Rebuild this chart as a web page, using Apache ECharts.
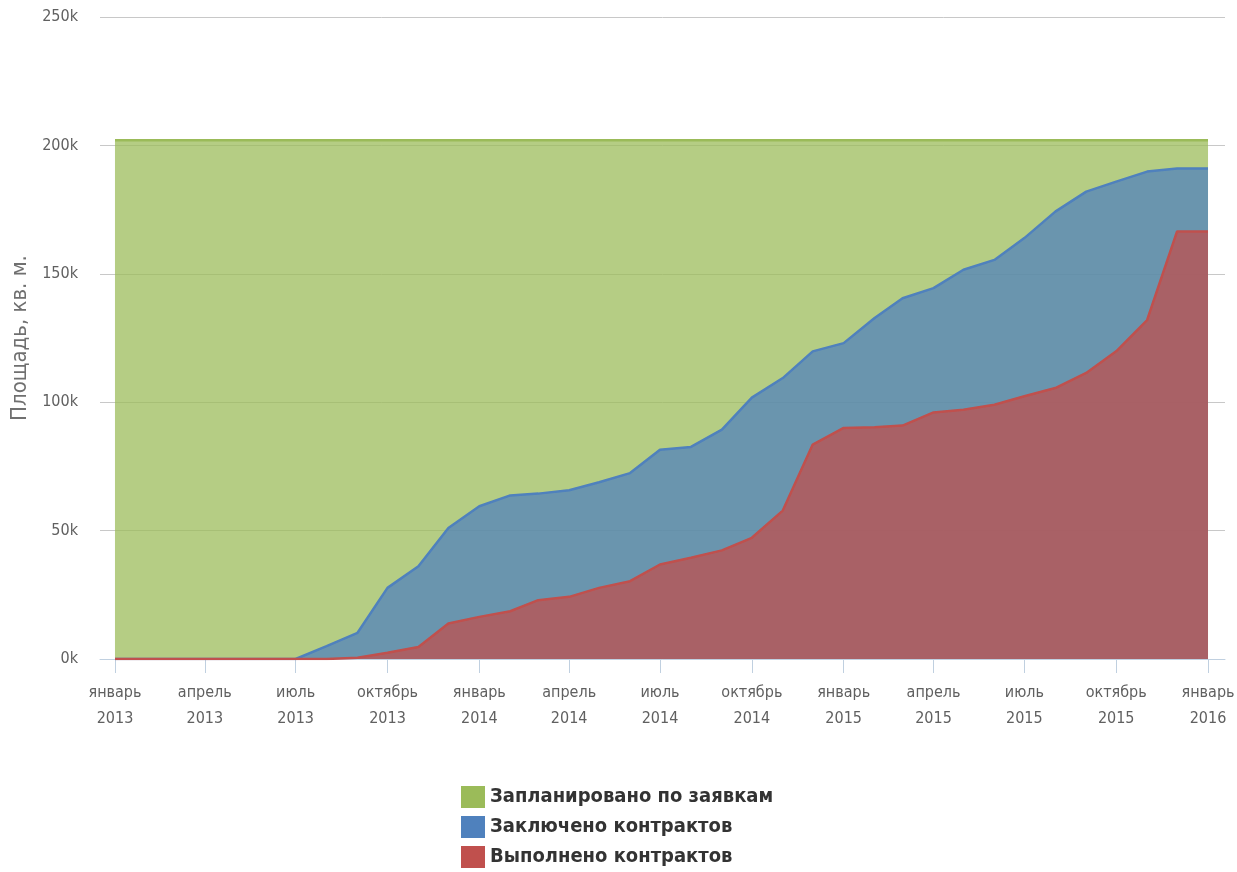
<!DOCTYPE html>
<html>
<head>
<meta charset="utf-8">
<script src="https://cdn.jsdelivr.net/npm/echarts@6/dist/echarts.min.js"></script>
<style>
  html, body { margin: 0; padding: 0; background: #fff; }
  #main { width: 1237px; height: 872px; }
</style>
</head>
<body>
<div id="main"></div>
<script>
// месяцы (первое число)
var months = [
  '2013-01-01', '2013-02-01', '2013-03-01', '2013-04-01', '2013-05-01', '2013-06-01',
  '2013-07-01', '2013-08-01', '2013-09-01', '2013-10-01', '2013-11-01', '2013-12-01',
  '2014-01-01', '2014-02-01', '2014-03-01', '2014-04-01', '2014-05-01', '2014-06-01',
  '2014-07-01', '2014-08-01', '2014-09-01', '2014-10-01', '2014-11-01', '2014-12-01',
  '2015-01-01', '2015-02-01', '2015-03-01', '2015-04-01', '2015-05-01', '2015-06-01',
  '2015-07-01', '2015-08-01', '2015-09-01', '2015-10-01', '2015-11-01', '2015-12-01',
  '2016-01-01'
];

// площадь, тыс. кв. м.
var planned = [
  202, 202, 202, 202, 202, 202, 202, 202, 202, 202, 202, 202,
  202, 202, 202, 202, 202, 202, 202, 202, 202, 202, 202, 202,
  202, 202, 202, 202, 202, 202, 202, 202, 202, 202, 202, 202,
  202
];
var contracted = [
  0, 0, 0, 0, 0, 0, 0, 5, 10.2, 27.7, 36.1, 51,
  59.5, 63.7, 64.4, 65.7, 68.8, 72.4, 81.5, 82.6, 89.3, 101.8, 109.4, 119.8,
  123, 132.8, 140.5, 144.4, 151.6, 155.4, 163.9, 174.2, 182, 185.9, 189.8, 191,
  191
];
var done = [
  0, 0, 0, 0, 0, 0, 0, 0, 0.5, 2.4, 4.7, 13.8,
  16.4, 18.6, 22.9, 24.2, 27.7, 30.3, 36.8, 39.4, 42.3, 47.2, 57.8, 83.5,
  90, 90.2, 90.9, 96, 97.1, 99, 102.3, 105.5, 111.4, 119.8, 132, 166.5,
  166.5
];

// подписи оси X
var tickDates = [
  '2013-01-01', '2013-04-01', '2013-07-01', '2013-10-01',
  '2014-01-01', '2014-04-01', '2014-07-01', '2014-10-01',
  '2015-01-01', '2015-04-01', '2015-07-01', '2015-10-01',
  '2016-01-01'
];
var monthNames = ['январь', 'февраль', 'март', 'апрель', 'май', 'июнь',
  'июль', 'август', 'сентябрь', 'октябрь', 'ноябрь', 'декабрь'];

var seriesNames = ['Запланировано по заявкам', 'Заключено контрактов', 'Выполнено контрактов'];
var seriesColors = ['#9bbb59', '#4f81bd', '#c0504d'];
var seriesData = [planned, contracted, done];

function toTime(s) {
  var p = s.split('-');
  return new Date(+p[0], +p[1] - 1, +p[2]).getTime();
}

var narrow = "'Liberation Sans Narrow', 'Arial Narrow', 'DejaVu Sans Condensed', sans-serif";
var tickValues = tickDates.map(toTime);

var chart = echarts.init(document.getElementById('main'));

var option = {
  animation: false,
  grid: { left: 100, right: 12, top: 17, bottom: 213, containLabel: false, outerBoundsMode: 'none' },
  legend: {
    orient: 'vertical',
    left: 456,
    top: 781,
    height: 120,
    icon: 'rect',
    itemWidth: 24,
    itemHeight: 22,
    itemGap: 8,
    textStyle: { fontFamily: narrow, fontSize: 20, fontWeight: 'bold', color: '#333' },
    data: seriesNames
  },
  xAxis: {
    type: 'value',
    min: toTime('2012-12-17'),
    max: toTime('2016-01-18'),
    axisLine: { show: true, onZero: false, lineStyle: { color: '#c0d0e0', width: 1 } },
    axisTick: { show: true, length: 14, lineStyle: { color: '#c0d0e0' }, customValues: tickValues },
    splitLine: { show: false },
    axisLabel: {
      customValues: tickValues,
      margin: 21,
      fontFamily: narrow,
      fontSize: 16,
      lineHeight: 26,
      color: '#606060',
      formatter: function (value) {
        var d = new Date(value);
        return monthNames[d.getMonth()] + '\n' + d.getFullYear();
      }
    }
  },
  yAxis: {
    type: 'value',
    min: 0,
    max: 250,
    interval: 50,
    name: 'Площадь, кв. м.',
    nameLocation: 'middle',
    nameGap: 69,
    nameTextStyle: { fontFamily: narrow, fontSize: 22, color: '#707070' },
    axisLine: { show: false },
    axisTick: { show: false },
    splitLine: { lineStyle: { color: '#c8c8c8', width: 1 } },
    axisLabel: {
      margin: 22,
      fontFamily: narrow,
      fontSize: 16,
      color: '#606060',
      formatter: '{value}k'
    }
  },
  series: seriesNames.map(function (name, k) {
    return {
      name: name,
      type: 'line',
      showSymbol: false,
      color: seriesColors[k],
      lineStyle: { width: 2.5, color: seriesColors[k] },
      areaStyle: { color: seriesColors[k], opacity: 0.74 },
      data: months.map(function (m, i) { return [toTime(m), seriesData[k][i]]; })
    };
  })
};

chart.setOption(option);
</script>
</body>
</html>
